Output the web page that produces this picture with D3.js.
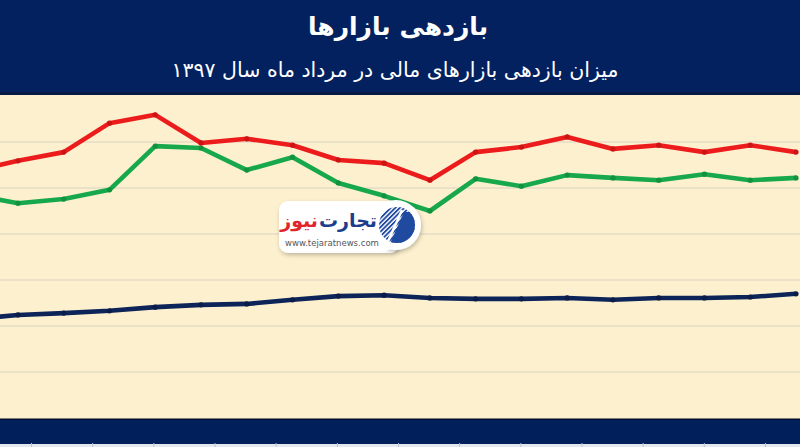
<!DOCTYPE html>
<html><head><meta charset="utf-8">
<script src="https://cdn.jsdelivr.net/npm/d3@7"></script>
<style>html,body{margin:0;padding:0;background:#fff}svg{display:block}</style>
</head><body>
<svg id="chart" width="800" height="447"></svg>
<script>
// ---- data (first point lies just left of the visible area) ----
const days = ["1","2","3","4","5","6","7","8","9","10","11","12","13","14","15","16","17","18","19"];
const redSeries   = [53.7,55.9,57.8,64.1,65.9,59.8,60.7,59.3,56.1,55.4,51.7,57.8,58.9,61.1,58.5,59.3,57.8,59.3,57.8];
const greenSeries = [48.5,46.7,47.6,49.6,59.1,58.7,53.9,56.7,51.1,48.3,45.0,52.0,50.4,52.8,52.2,51.7,53.0,51.7,52.2];
const navySeries  = [21.5,22.4,22.8,23.3,24.1,24.6,24.8,25.7,26.5,26.7,26.1,25.9,25.9,26.1,25.7,26.1,26.1,26.3,27.0];
const yTicks = [0,10,20,30,40,50,60,70];
const titleText = "بازدهی بازارها";
const subtitleText = "میزان بازدهی بازارهای مالی در مرداد ماه سال ۱۳۹۷";

const W = 800, H = 447;
const svg = d3.select("#chart");
const font = "'DejaVu Sans', 'Noto Sans', sans-serif";

svg.append("rect").attr("x",0).attr("y",0).attr("width",W).attr("height",H).attr("fill","#fdf0cf");

const x = d3.scalePoint().domain(days).range([-27.8, 796]);
const y = d3.scaleLinear().domain([0,70]).range([418, 96]);

// gridlines
svg.append("g").selectAll("line").data(yTicks.slice(1,7)).join("line")
  .attr("x1",0).attr("x2",W).attr("y1",d=>y(d)).attr("y2",d=>y(d))
  .attr("stroke","#d8d2c2").attr("stroke-width",1);

// lines
svg.append("clipPath").attr("id","plotclip").append("rect")
  .attr("x",0).attr("y",95).attr("width",W).attr("height",324);
const plot = svg.append("g").attr("clip-path","url(#plotclip)");
const series = [
  {vals: navySeries, color:"#0d2459", dot:"#0a1c47"},
  {vals: greenSeries, color:"#17a84b", dot:"#12913f"},
  {vals: redSeries, color:"#ec1c1c", dot:"#cc1414"}
];
const line = d3.line().x((d,i)=>x(days[i])).y(d=>y(d));
series.forEach(s=>{
  plot.append("path").datum(s.vals).attr("d",line).attr("fill","none")
    .attr("stroke",s.color).attr("stroke-width",4.6).attr("stroke-linejoin","round");
  plot.append("g").selectAll("circle").data(s.vals).join("circle")
    .attr("cx",(d,i)=>x(days[i])).attr("cy",d=>y(d)).attr("r",2.6).attr("fill",s.dot);
});

// header
svg.append("rect").attr("x",0).attr("y",0).attr("width",W).attr("height",95).attr("fill","#03215f");
svg.append("rect").attr("x",0).attr("y",92).attr("width",W).attr("height",3).attr("fill","#071a45");
svg.append("text").attr("x",398).attr("y",35).attr("text-anchor","middle")
  .attr("font-family",font).attr("font-weight","bold").attr("font-size",25).attr("fill","#fff").text(titleText);
svg.append("text").attr("x",395).attr("y",77).attr("text-anchor","middle")
  .attr("font-family",font).attr("font-size",20.5).attr("fill","#fff").text(subtitleText);

// bottom band
svg.append("rect").attr("x",0).attr("y",419).attr("width",W).attr("height",25).attr("fill","#011f5b");
svg.append("rect").attr("x",0).attr("y",418.5).attr("width",W).attr("height",1.5).attr("fill","#000c2e");
svg.append("rect").attr("x",0).attr("y",444).attr("width",W).attr("height",3).attr("fill","#e3e7ee");
const bx = d3.scaleLinear().domain([0,12]).range([31,765]);
svg.append("g").attr("transform","translate(0,443)")
  .call(d3.axisBottom(bx).ticks(12).tickSize(4).tickFormat(""))
  .call(g=>g.select(".domain").remove())
  .call(g=>g.selectAll("line").attr("stroke","#b9c2d2"));

// logo
const logo = svg.append("g");
const defs = svg.append("defs");
const pat = defs.append("pattern").attr("id","stripes").attr("patternUnits","userSpaceOnUse")
  .attr("width",3.2).attr("height",3.2).attr("patternTransform","rotate(45)");
pat.append("rect").attr("width",3.2).attr("height",3.2).attr("fill","#fff");
pat.append("rect").attr("width",1.8).attr("height",3.2).attr("fill","#1f4aa0");
const f = defs.append("filter").attr("id","shadow").attr("x","-20%").attr("y","-20%").attr("width","140%").attr("height","140%");
f.append("feDropShadow").attr("dx",1).attr("dy",2).attr("stdDeviation",2).attr("flood-color","#000").attr("flood-opacity",0.25);

logo.append("rect").attr("x",279).attr("y",201).attr("width",120).attr("height",52).attr("rx",9)
  .attr("fill","#fff").attr("filter","url(#shadow)");
logo.append("circle").attr("cx",396).attr("cy",225).attr("r",25).attr("fill","#fff").attr("filter","url(#shadow)");
logo.append("rect").attr("x",281).attr("y",203).attr("width",112).attr("height",48).attr("rx",8).attr("fill","#fff");
logo.append("circle").attr("cx",397).attr("cy",225).attr("r",18).attr("fill","url(#stripes)");
defs.append("clipPath").attr("id","iconclip").append("circle").attr("cx",397).attr("cy",225).attr("r",18);
logo.append("path").attr("clip-path","url(#iconclip)")
  .attr("d","M388,248 L404,212 L417,212 L417,248 Z").attr("fill","#1f4aa0");
logo.append("path").attr("clip-path","url(#iconclip)")
  .attr("d","M386,246 L402,210").attr("stroke","#fff").attr("stroke-width",2.5);
const t1 = logo.append("text").attr("y",227).attr("text-anchor","middle")
  .attr("font-family",font).attr("font-weight","bold").attr("font-size",19).attr("fill","#1c3c8c").text("تجارت");
const t2 = logo.append("text").attr("y",227).attr("text-anchor","middle")
  .attr("font-family",font).attr("font-weight","bold").attr("font-size",19).attr("fill","#e2242b").text("نیوز");
const w1 = t1.node().getComputedTextLength(), w2 = t2.node().getComputedTextLength();
const right = 377, gap = 1;
t1.attr("x", right - w1/2);
t2.attr("x", right - w1 - gap - w2/2);
logo.append("text").attr("x",332).attr("y",246).attr("text-anchor","middle")
  .attr("font-family",font).attr("font-size",8.5).attr("fill","#555").text("www.tejaratnews.com");
</script>
</body></html>
